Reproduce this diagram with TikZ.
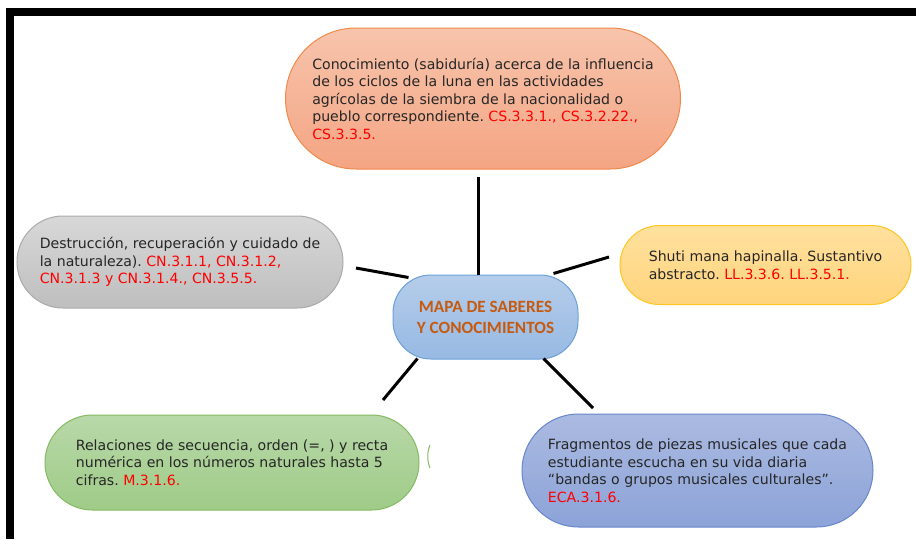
\documentclass[tikz,border=0pt]{standalone}
\usepackage{fontspec}
\setmainfont{DejaVu Sans}
\newfontfamily\calibri{Carlito}
\usepackage{tikz}
\usetikzlibrary{calc}
\frenchspacing
\definecolor{rojo}{HTML}{FF0000}
\definecolor{titulo}{HTML}{C55A11}
\definecolor{naranjaA}{HTML}{F7C4AC}
\definecolor{naranjaB}{HTML}{F4A583}
\definecolor{naranjaL}{HTML}{F08A4B}
\definecolor{grisA}{HTML}{D8D8D8}
\definecolor{grisB}{HTML}{BEBEBE}
\definecolor{grisL}{HTML}{ABABAB}
\definecolor{amarilloA}{HTML}{FFE19E}
\definecolor{amarilloB}{HTML}{FFD47D}
\definecolor{amarilloL}{HTML}{FFC51F}
\definecolor{verdeA}{HTML}{B8D8A9}
\definecolor{verdeB}{HTML}{9FCB87}
\definecolor{verdeL}{HTML}{84BA62}
\definecolor{azulA}{HTML}{ABBAE1}
\definecolor{azulB}{HTML}{8CA3D8}
\definecolor{azulL}{HTML}{6886CB}
\definecolor{celesteA}{HTML}{B5CDEA}
\definecolor{celesteB}{HTML}{97B9E3}
\definecolor{celesteL}{HTML}{6AA2D8}
\newcommand{\destreza}[1]{\textcolor{rojo}{#1}}
\tikzset{
	every node/.style={
		font=\fontsize{14.1}{17.5}\selectfont
	},
	saber/.style={
		shape=rectangle,
		align=left,
		inner sep=0pt,
		line width=1pt,
		text=black!85
	},
	luna/.style={
		saber,
		top color=naranjaA, bottom color=naranjaB, draw=naranjaL,
		minimum width=395, minimum height=141, rounded corners=70.5
	},
	naturaleza/.style={
		saber,
		top color=grisA, bottom color=grisB, draw=grisL,
		minimum width=326, minimum height=92, rounded corners=46
	},
	shuti/.style={
		saber,
		top color=amarilloA, bottom color=amarilloB, draw=amarilloL,
		minimum width=291, minimum height=79, rounded corners=39.5
	},
	relaciones/.style={
		saber,
		top color=verdeA, bottom color=verdeB, draw=verdeL,
		minimum width=374, minimum height=95, rounded corners=47.5
	},
	musica/.style={
		saber,
		top color=azulA, bottom color=azulB, draw=azulL,
		minimum width=351, minimum height=113, rounded corners=56.5
	},
	mapa/.style={
		saber,
		align=center,
		top color=celesteA, bottom color=celesteB, draw=celesteL,
		minimum width=185, minimum height=84, rounded corners=38,
		font=\calibri\bfseries\fontsize{17.2}{21}\selectfont,
		text=titulo
	},
	conector/.style={line width=3pt, black}
}

\begin{document}
\begin{tikzpicture}[x=1pt, y=-1pt]
	\useasboundingbox (0,0) rectangle (916,539);
	\fill (6,8) rectangle (916,16);
	\fill (6,8) rectangle (14,539);
	
	\node[luna]       (luna)       at (483,98.5) {Conocimiento (sabiduría) acerca de la influencia\\de los ciclos de la luna en las actividades\\agrícolas de la siembra de la nacionalidad o\\pueblo correspondiente. \destreza{CS.3.3.1., CS.3.2.22.,}\\\destreza{CS.3.3.5.}};
	\node[naturaleza] (naturaleza) at (180,262)    {Destrucción, recuperación y cuidado de\\la naturaleza). \destreza{CN.3.1.1, CN.3.1.2,}\\\destreza{CN.3.1.3 y CN.3.1.4., CN.3.5.5.}};
	\node[shuti]      (shuti)      at (765.5,265)  {Shuti mana hapinalla. Sustantivo\\abstracto. \destreza{LL.3.3.6. LL.3.5.1.}};
	\node[mapa]       (mapa)       at (485.5,317)  {MAPA DE SABERES\\Y CONOCIMIENTOS};
	\node[relaciones] (relaciones) at (232,462.5)  {Relaciones de secuencia, orden (=, ) y recta\\numérica en los números naturales hasta 5\\cifras. \destreza{M.3.1.6.}};
	\node[musica]     (musica)     at (697.5,470.5) {Fragmentos de piezas musicales que cada\\estudiante escucha en su vida diaria\\“bandas o grupos musicales culturales”.\\\destreza{ECA.3.1.6.}};
	
	\coordinate (pLuna)  at (478,177);
	\coordinate (pNat)   at (356,268);
	\coordinate (pShuti) at (609,257);
	\coordinate (pRel)   at (383,400);
	\coordinate (pMus)   at (593,408);
	
	\draw[conector] (pLuna |- mapa.north) -- (pLuna);
	\draw[conector] ($(mapa.north west)+(16,3)$) -- (pNat);
	\draw[conector] ($(mapa.north east)+(-25,-1)$) -- (pShuti);
	\draw[conector] ($(mapa.south west)+(25,-1)$) -- (pRel);
	\draw[conector] ($(mapa.south east)+(-35,-1)$) -- (pMus);
	
	\draw[verdeL, line width=1pt] (430,445) .. controls (427,452) and (427,461) .. (430,468);
\end{tikzpicture}
\end{document}
